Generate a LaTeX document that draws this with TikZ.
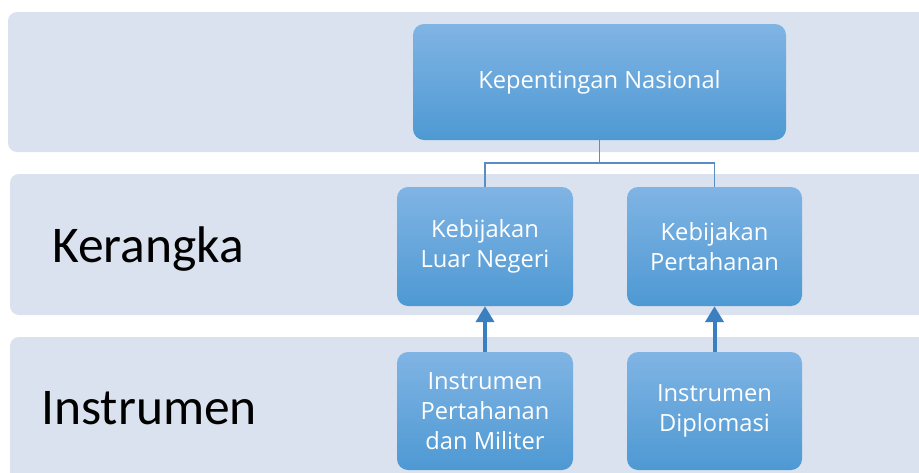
\documentclass[tikz,border=0pt]{standalone}
\usepackage{fontspec}
\setmainfont{Carlito}
\newfontfamily\boxfont{Open Sans}
\usetikzlibrary{arrows.meta}
\definecolor{bandc}{HTML}{DAE2EF}
\definecolor{boxtop}{HTML}{80B4E4}
\definecolor{boxbot}{HTML}{4E99D3}
\definecolor{linec}{HTML}{5A8EC0}
\definecolor{arrc}{HTML}{3A80C0}
\tikzset{
  band/.style={fill=bandc, draw=none, rounded corners=9pt},
  sbox/.style={rectangle, rounded corners=11pt, top color=boxtop, bottom color=boxbot, draw=none,
    text=white, align=center, font=\boxfont\fontsize{23.7}{30}\selectfont, inner sep=0pt},
  conn/.style={draw=linec, line width=1.5pt},
  upar/.style={draw=arrc, line width=4pt, -{Triangle[width=18pt,length=16pt]}},
  lbl/.style={anchor=base west, font=\fontsize{51.5}{60}\selectfont, text=black, inner sep=0pt}
}
\begin{document}
\begin{tikzpicture}[x=1pt,y=-1pt]
\clip (0,0) rectangle (919,472);
\fill[white] (0,0) rectangle (919,472);
\fill[band] (8,12) rectangle (940,152);
\fill[band] (10,174) rectangle (940,315);
\fill[band] (10,337) rectangle (940,500);
\node[lbl] (kl) at (52,262) {Kerangka};
\node[lbl] (il) at (41,424) {Instrumen};
\node[sbox, minimum width=373pt, minimum height=116pt] (kn) at (599.5,82) {Kepentingan Nasional};
\node[sbox, minimum width=176pt, minimum height=119pt] (ln) at (485,246.5) {Kebijakan\\Luar Negeri};
\node[sbox, minimum width=175pt, minimum height=119pt] (pt) at (714.5,246.5) {Kebijakan\\Pertahanan};
\node[sbox, minimum width=176pt, minimum height=118pt] (ipm) at (485,411) {Instrumen\\Pertahanan\\dan Militer};
\node[sbox, minimum width=175pt, minimum height=118pt] (id) at (714.5,411) {Instrumen\\Diplomasi};
\coordinate (j) at (599.5,163);
\draw[conn] (kn.south) -- (j) -| (ln.north);
\draw[conn] (j) -| (pt.north);
\draw[upar] (ipm.north) -- (ln.south);
\draw[upar] (id.north) -- (pt.south);
\end{tikzpicture}
\end{document}
